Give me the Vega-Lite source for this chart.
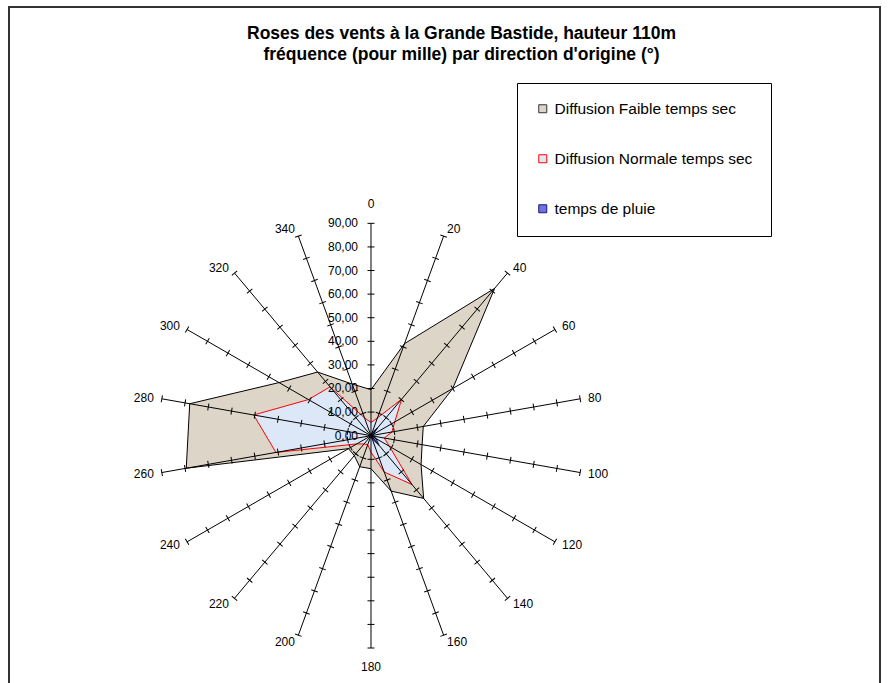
{
  "$schema": "https://vega.github.io/schema/vega-lite/v6.json",
  "width": 871,
  "height": 683,
  "autosize": {"type": "none"},
  "padding": {"left": 9, "top": 7, "right": 10, "bottom": 0},
  "background": "white",
  "config": {
    "view": {"stroke": "#333333", "strokeWidth": 2},
    "font": "Liberation Sans",
    "locale": {"number": {"decimal": ",", "thousands": " ", "grouping": [3], "currency": ["", " €"]}}
  },
  "title": {
    "text": ["Roses des vents à la Grande Bastide,  hauteur 110m", "fréquence (pour mille) par direction d'origine (°)"],
    "font": "Liberation Sans", "fontSize": 17.5, "fontWeight": "bold", "color": "black",
    "anchor": "middle", "baseline": "top", "offset": 0, "dy": 56, "dx": 17, "lineHeight": 21
  },
  "datasets": {
    "rose": [
      {"dir": 0, "faible": 19.5, "normale": 5.6, "pluie": 0.6},
      {"dir": 20, "faible": 41.5, "normale": 8.0, "pluie": 1.5},
      {"dir": 40, "faible": 81.5, "normale": 20.2, "pluie": 4.3},
      {"dir": 60, "faible": 40.0, "normale": 11.6, "pluie": 1.2},
      {"dir": 80, "faible": 22.5, "normale": 9.0, "pluie": 0.8},
      {"dir": 100, "faible": 22.0, "normale": 5.7, "pluie": 1.0},
      {"dir": 120, "faible": 24.5, "normale": 9.0, "pluie": 2.5},
      {"dir": 140, "faible": 34.7, "normale": 27.0, "pluie": 5.3},
      {"dir": 160, "faible": 25.0, "normale": 16.4, "pluie": 1.5},
      {"dir": 180, "faible": 14.0, "normale": 7.0, "pluie": 0.6},
      {"dir": 200, "faible": 14.0, "normale": 4.0, "pluie": 0.5},
      {"dir": 220, "faible": 11.0, "normale": 4.6, "pluie": 0.5},
      {"dir": 240, "faible": 11.0, "normale": 7.0, "pluie": 0.6},
      {"dir": 260, "faible": 79.5, "normale": 40.9, "pluie": 1.0},
      {"dir": 280, "faible": 78.0, "normale": 50.5, "pluie": 1.0},
      {"dir": 300, "faible": 45.0, "normale": 30.6, "pluie": 0.8},
      {"dir": 320, "faible": 35.2, "normale": 27.0, "pluie": 0.6},
      {"dir": 340, "faible": 23.3, "normale": 8.0, "pluie": 0.5}
    ],
    "graduations": [
      {"t": 0}, {"t": 10}, {"t": 20}, {"t": 30}, {"t": 40}, {"t": 50}, {"t": 60}, {"t": 70}, {"t": 80}, {"t": 90}
    ],
    "series": [
      {"name": "Diffusion Faible temps sec"},
      {"name": "Diffusion Normale temps sec"},
      {"name": "temps de pluie"}
    ]
  },
  "layer": [
    {
      "data": {"name": "rose"},
      "transform": [
        {"calculate": "datum.faible*sin(datum.dir*PI/180)", "as": "px"},
        {"calculate": "datum.faible*cos(datum.dir*PI/180)", "as": "py"}
      ],
      "mark": {"type": "line", "interpolate": "linear-closed", "fill": "#ddd5c7", "stroke": "#000000", "strokeWidth": 1},
      "encoding": {
        "x": {"field": "px", "type": "quantitative", "scale": {"domain": [-153.4, 215.7], "nice": false, "zero": false}, "axis": null},
        "y": {"field": "py", "type": "quantitative", "scale": {"domain": [-107.8, 181.7], "nice": false, "zero": false}, "axis": null},
        "order": {"field": "dir", "type": "quantitative"}
      }
    },
    {
      "data": {"name": "rose"},
      "transform": [
        {"calculate": "datum.normale*sin(datum.dir*PI/180)", "as": "px"},
        {"calculate": "datum.normale*cos(datum.dir*PI/180)", "as": "py"}
      ],
      "mark": {"type": "line", "interpolate": "linear-closed", "fill": "#dce8f8", "stroke": "#ff0000", "strokeWidth": 1},
      "encoding": {
        "x": {"field": "px", "type": "quantitative"},
        "y": {"field": "py", "type": "quantitative"},
        "order": {"field": "dir", "type": "quantitative"}
      }
    },
    {
      "data": {"name": "rose"},
      "transform": [
        {"calculate": "datum.pluie*sin(datum.dir*PI/180)", "as": "px"},
        {"calculate": "datum.pluie*cos(datum.dir*PI/180)", "as": "py"}
      ],
      "mark": {"type": "line", "interpolate": "linear-closed", "fill": "#7070ea", "stroke": "#1a1a60", "strokeWidth": 1},
      "encoding": {
        "x": {"field": "px", "type": "quantitative"},
        "y": {"field": "py", "type": "quantitative"},
        "order": {"field": "dir", "type": "quantitative"}
      }
    },
    {
      "data": {"name": "rose"},
      "transform": [
        {"calculate": "0", "as": "ox"},
        {"calculate": "90*sin(datum.dir*PI/180)", "as": "ex"},
        {"calculate": "90*cos(datum.dir*PI/180)", "as": "ey"}
      ],
      "mark": {"type": "rule", "color": "#000000", "strokeWidth": 1},
      "encoding": {
        "x": {"field": "ox", "type": "quantitative"},
        "y": {"field": "ox", "type": "quantitative"},
        "x2": {"field": "ex"},
        "y2": {"field": "ey"}
      }
    },
    {
      "data": {"name": "rose"},
      "transform": [
        {"calculate": "[10,20,30,40,50,60,70,80,90]", "as": "t"},
        {"flatten": ["t"]},
        {"calculate": "datum.t*sin(datum.dir*PI/180)", "as": "tx"},
        {"calculate": "datum.t*cos(datum.dir*PI/180)", "as": "ty"}
      ],
      "mark": {"type": "point", "shape": "M-1,0L1,0", "size": 49, "stroke": "#000000", "strokeWidth": 1, "filled": false, "opacity": 1},
      "encoding": {
        "x": {"field": "tx", "type": "quantitative"},
        "y": {"field": "ty", "type": "quantitative"},
        "angle": {"field": "dir", "type": "quantitative", "scale": {"domain": [0, 360], "range": [0, 360]}}
      }
    },
    {
      "data": {"name": "graduations"},
      "transform": [{"calculate": "0", "as": "ox"}],
      "mark": {"type": "text", "align": "right", "baseline": "middle", "dx": -13, "fontSize": 12, "color": "#000000"},
      "encoding": {
        "x": {"field": "ox", "type": "quantitative"},
        "y": {"field": "t", "type": "quantitative"},
        "text": {"field": "t", "type": "quantitative", "format": ".2f"}
      }
    },
    {
      "data": {"name": "rose"},
      "transform": [
        {"filter": "datum.dir > 0 && datum.dir < 180"},
        {"calculate": "93*sin(datum.dir*PI/180)", "as": "lx"},
        {"calculate": "93*cos(datum.dir*PI/180)", "as": "ly"}
      ],
      "mark": {"type": "text", "align": "left", "baseline": "middle", "dx": 1, "fontSize": 12, "color": "#000000"},
      "encoding": {
        "x": {"field": "lx", "type": "quantitative"},
        "y": {"field": "ly", "type": "quantitative"},
        "text": {"field": "dir", "type": "quantitative"}
      }
    },
    {
      "data": {"name": "rose"},
      "transform": [
        {"filter": "datum.dir > 180"},
        {"calculate": "93*sin(datum.dir*PI/180)", "as": "lx"},
        {"calculate": "93*cos(datum.dir*PI/180)", "as": "ly"}
      ],
      "mark": {"type": "text", "align": "right", "baseline": "middle", "dx": -1, "fontSize": 12, "color": "#000000"},
      "encoding": {
        "x": {"field": "lx", "type": "quantitative"},
        "y": {"field": "ly", "type": "quantitative"},
        "text": {"field": "dir", "type": "quantitative"}
      }
    },
    {
      "data": {"name": "rose"},
      "transform": [
        {"filter": "datum.dir == 0 || datum.dir == 180"},
        {"calculate": "98*sin(datum.dir*PI/180)", "as": "lx"},
        {"calculate": "98*cos(datum.dir*PI/180)", "as": "ly"}
      ],
      "mark": {"type": "text", "align": "center", "baseline": "middle", "fontSize": 12, "color": "#000000"},
      "encoding": {
        "x": {"field": "lx", "type": "quantitative"},
        "y": {"field": "ly", "type": "quantitative"},
        "text": {"field": "dir", "type": "quantitative"}
      }
    },
    {
      "data": {"name": "series"},
      "transform": [{"calculate": "0", "as": "ox"}],
      "mark": {"type": "point", "shape": "square", "filled": true, "size": 0, "opacity": 1},
      "encoding": {
        "x": {"field": "ox", "type": "quantitative"},
        "y": {"field": "ox", "type": "quantitative"},
        "fill": {
          "field": "name", "type": "nominal",
          "scale": {"domain": ["Diffusion Faible temps sec", "Diffusion Normale temps sec", "temps de pluie"], "range": ["#ddd5c7", "#dce8f8", "#7070ea"]},
          "legend": {
            "orient": "none", "legendX": 508, "legendY": 76, "title": null,
            "padding": 18, "strokeColor": "#000000", "fillColor": "#ffffff",
            "rowPadding": 33, "symbolType": "square", "symbolSize": 64, "symbolOpacity": 1,
            "symbolStrokeWidth": 1, "labelFontSize": 15.5, "labelFont": "Liberation Sans",
            "labelColor": "#000000", "labelOffset": 4, "labelLimit": 400
          }
        },
        "stroke": {
          "field": "name", "type": "nominal",
          "scale": {"domain": ["Diffusion Faible temps sec", "Diffusion Normale temps sec", "temps de pluie"], "range": ["#333333", "#ff0000", "#1a1a60"]}
        }
      }
    }
  ]
}
